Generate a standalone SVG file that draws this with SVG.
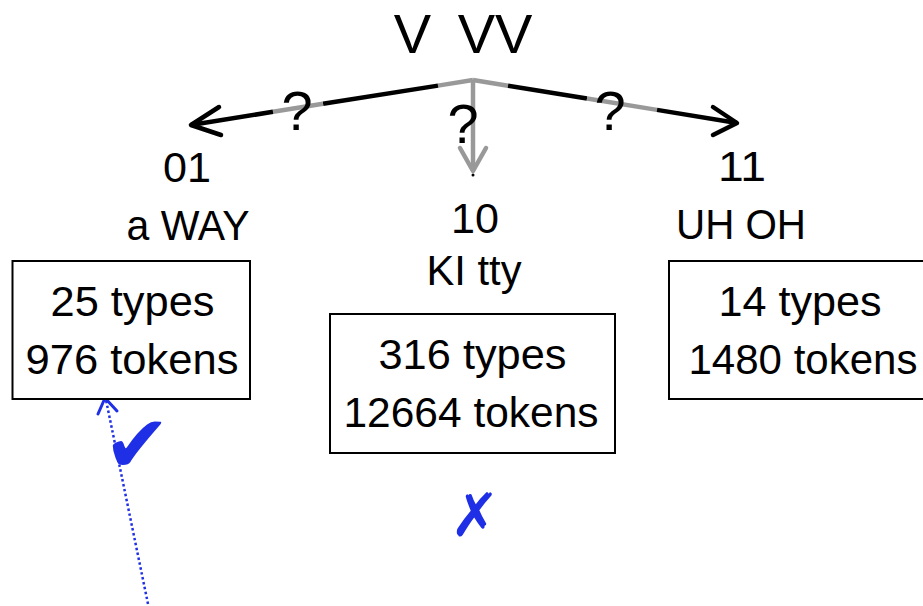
<svg xmlns="http://www.w3.org/2000/svg" width="923" height="606" viewBox="0 0 923 606">
<style>
text{font-family:"Liberation Sans",Arial,sans-serif;fill:#000;text-anchor:middle}
.t{font-size:43px}
.big{font-size:56px}
.box{fill:#fff;stroke:#000;stroke-width:2}
.k{stroke:#000;stroke-width:4.5;fill:none;stroke-linecap:round;stroke-linejoin:round}
.g{stroke:#999;stroke-width:4.5;fill:none;stroke-linecap:butt;stroke-linejoin:round}
.b{fill:#1f2fe6;font-family:"DejaVu Sans",sans-serif}
</style>
<rect width="923" height="606" fill="#fff"/>
<g id="root">
<text class="big" x="412.5" y="53">V</text>
<text class="big" x="495" y="53">VV</text>
</g>
<g id="connectors">
<path class="g" d="M473,80 L438,85.6"/>
<path class="k" d="M438,85.6 L323,103.8" style="stroke-linecap:butt"/>
<path class="g" d="M323,103.8 L273,111.8"/>
<path class="k" d="M273,111.8 L191,125" style="stroke-linecap:butt"/>
<path class="k" d="M219,107 L191,125 L221,135"/>
<path class="g" d="M473,80 L473,171"/>
<path class="g" d="M460,148 L473,171 L486,148" style="stroke-linecap:round"/>
<circle cx="473" cy="175" r="1.5" fill="#000"/>
<path class="g" d="M473,80 L508,85.7"/>
<path class="k" d="M508,85.7 L587,98.5" style="stroke-linecap:butt"/>
<path class="g" d="M587,98.5 L657,109.9"/>
<path class="k" d="M657,109.9 L737,123" style="stroke-linecap:butt"/>
<path class="k" d="M713,107 L737,123 L713,135"/>
<text class="big" x="297" y="130">?</text>
<text class="big" x="463" y="143">?</text>
<text class="big" x="610" y="130">?</text>
<path d="M148,604 L106,400" stroke="#1f2fe6" stroke-width="2.5" stroke-dasharray="2.5,2.5" fill="none"/>
<path d="M98,414 L105,398 L117,411" stroke="#1f2fe6" stroke-width="3" fill="none" stroke-linecap="round" stroke-linejoin="round"/>
</g>
<g id="node01">
<text class="t" x="187" y="182" textLength="48" lengthAdjust="spacingAndGlyphs">01</text>
<text class="t" x="188" y="240" textLength="123" lengthAdjust="spacingAndGlyphs">a WAY</text>
<rect class="box" x="12.5" y="261" width="237.5" height="138"/>
<text class="t" x="132.5" y="316" textLength="164" lengthAdjust="spacingAndGlyphs">25 types</text>
<text class="t" x="132" y="374" textLength="213" lengthAdjust="spacingAndGlyphs">976 tokens</text>
</g>
<g id="node10">
<text class="t" x="475" y="233" textLength="48" lengthAdjust="spacingAndGlyphs">10</text>
<text class="t" x="474" y="285" textLength="95" lengthAdjust="spacingAndGlyphs">KI tty</text>
<rect class="box" x="330" y="314" width="285" height="139"/>
<text class="t" x="472.5" y="369" textLength="188" lengthAdjust="spacingAndGlyphs">316 types</text>
<text class="t" x="471" y="427" textLength="255" lengthAdjust="spacingAndGlyphs">12664 tokens</text>
</g>
<g id="node11">
<text class="t" x="742" y="181" textLength="48" lengthAdjust="spacingAndGlyphs">11</text>
<text class="t" x="741" y="239" textLength="130" lengthAdjust="spacingAndGlyphs">UH OH</text>
<rect class="box" x="669" y="261" width="266" height="138"/>
<text class="t" x="800" y="316" textLength="163" lengthAdjust="spacingAndGlyphs">14 types</text>
<text class="t" x="803" y="374" textLength="229" lengthAdjust="spacingAndGlyphs">1480 tokens</text>
</g>
<g id="marks">
<text class="b" x="137" y="472" font-size="80">✔</text>
<text class="b" x="475" y="536" font-size="60">✗</text>
</g>
</svg>
